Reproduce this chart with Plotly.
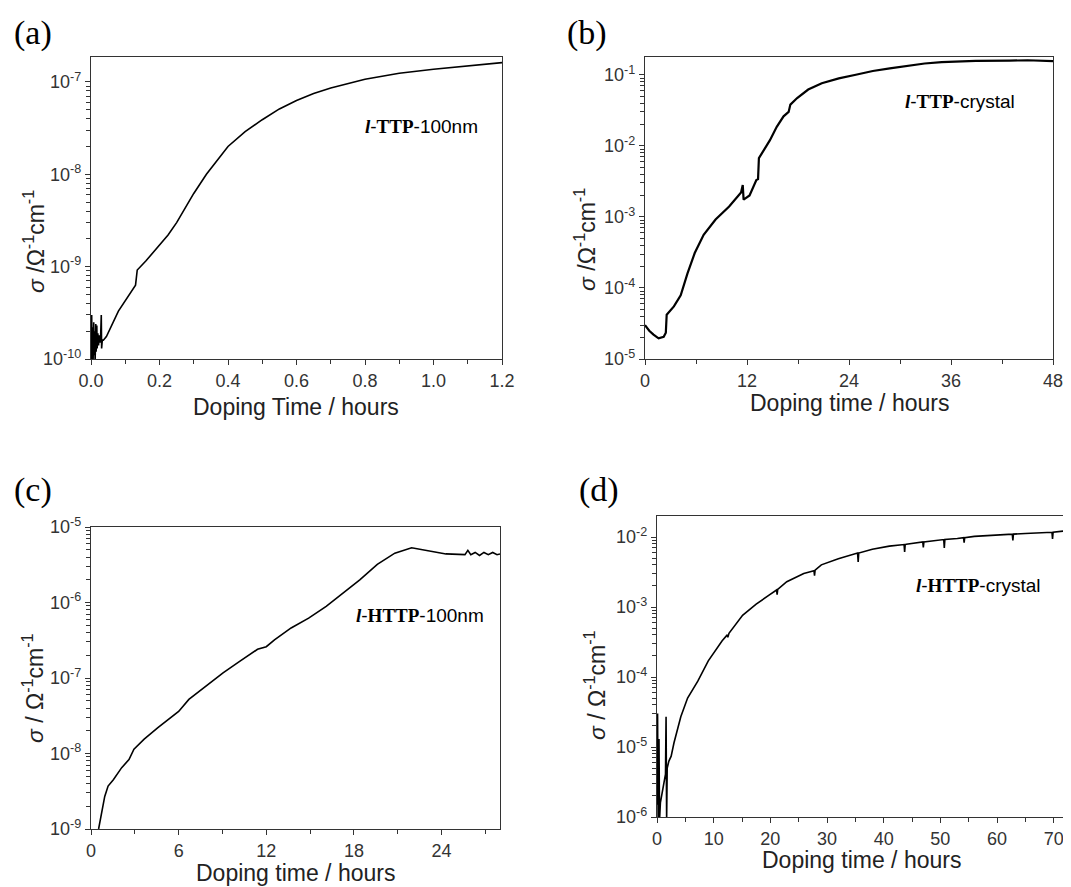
import plotly.graph_objects as go

# ---------------- data ----------------
# (a) l-TTP-100nm
a_time = [0.0, 0.002, 0.003, 0.005, 0.006, 0.008, 0.009, 0.011, 0.012, 0.014, 0.015, 0.017,
          0.018, 0.020, 0.022, 0.024, 0.026, 0.028, 0.030, 0.031, 0.033, 0.036, 0.045,
          0.08, 0.13, 0.135, 0.16, 0.2, 0.225, 0.25, 0.275, 0.3, 0.337, 0.37, 0.4, 0.45,
          0.5, 0.55, 0.6, 0.65, 0.7, 0.8, 0.9, 1.0, 1.1, 1.2]
a_sigma = [0.9e-10, 3.0e-10, 0.9e-10, 2.2e-10, 0.9e-10, 2.5e-10, 1.1e-10, 2.0e-10, 0.9e-10,
           2.4e-10, 1.2e-10, 2.3e-10, 1.3e-10, 1.9e-10, 1.4e-10, 1.8e-10, 1.5e-10, 1.7e-10,
           3.0e-10, 1.3e-10, 1.6e-10, 1.6e-10, 1.75e-10,
           3.3e-10, 6.3e-10, 9.2e-10, 1.15e-9, 1.7e-9, 2.2e-9, 3.0e-9, 4.3e-9, 6.2e-9,
           1.0e-8, 1.45e-8, 2.0e-8, 2.9e-8, 3.9e-8, 5.1e-8, 6.3e-8, 7.5e-8, 8.6e-8,
           1.07e-7, 1.24e-7, 1.37e-7, 1.48e-7, 1.62e-7]

# (b) l-TTP-crystal
b_time = [0.0, 0.5, 1.0, 1.6, 2.2, 2.45, 2.55, 3.4, 4.2, 5.0, 5.85, 6.9, 8.3, 9.9, 11.3,
          11.5, 11.6, 12.3, 13.1, 13.3, 13.4, 13.9, 14.7, 15.5, 16.3, 16.9, 17.1, 17.9,
          19.2, 20.8, 22.8, 24.8, 26.8, 28.8, 30.9, 32.9, 34.9, 36.9, 38.9, 42.9, 45.0, 48.0]
b_sigma = [3.0e-5, 2.5e-5, 2.2e-5, 1.95e-5, 2.05e-5, 2.35e-5, 4.2e-5, 5.5e-5, 7.9e-5,
           1.6e-4, 3.1e-4, 5.6e-4, 9.2e-4, 1.4e-3, 2.2e-3, 2.8e-3, 1.75e-3, 2.0e-3,
           3.3e-3, 3.4e-3, 6.7e-3, 8.3e-3, 1.2e-2, 1.85e-2, 2.6e-2, 3.0e-2, 3.8e-2,
           4.7e-2, 6.2e-2, 7.6e-2, 8.9e-2, 0.100, 0.113, 0.123, 0.134, 0.144, 0.151,
           0.155, 0.157, 0.158, 0.160, 0.156]

# (c) l-HTTP-100nm
c_time = [0.52, 0.94, 1.17, 1.53, 2.1, 2.6, 2.94, 3.64, 4.58, 5.52, 6.0, 6.7, 7.87, 9.04,
          10.2, 11.4, 12.0, 12.56, 13.7, 14.9, 16.1, 17.3, 18.4, 19.6, 20.8, 21.95,
          23.1, 24.3, 25.6, 25.8, 26.0, 26.3, 26.6, 26.9, 27.2, 27.5, 27.8, 28.0]
c_sigma = [1.0e-9, 2.7e-9, 3.7e-9, 4.5e-9, 6.5e-9, 8.3e-9, 1.14e-8, 1.55e-8, 2.2e-8,
           3.1e-8, 3.6e-8, 5.2e-8, 7.8e-8, 1.17e-7, 1.67e-7, 2.4e-7, 2.6e-7, 3.2e-7,
           4.6e-7, 6.2e-7, 8.9e-7, 1.34e-6, 2.0e-6, 3.2e-6, 4.5e-6, 5.3e-6, 4.8e-6,
           4.4e-6, 4.3e-6, 4.9e-6, 4.3e-6, 4.6e-6, 4.2e-6, 4.6e-6, 4.3e-6, 4.6e-6, 4.3e-6, 4.4e-6]

# (d) l-HTTP-crystal
d_time = [0.0, 0.1, 0.2, 0.3, 0.35, 0.45, 0.6, 0.9, 1.2, 1.5, 1.6, 1.7, 1.8, 2.1, 2.5,
          3.0, 4.2, 5.4, 7.2, 9.05, 11.5, 12.4, 12.5, 12.7, 15.1, 17.5, 19.9, 21.1, 21.2,
          21.3, 22.9, 25.9, 27.7, 27.8, 27.9, 29.0, 32.0, 35.0, 35.4, 35.5, 35.6, 38.0,
          41.0, 43.6, 43.7, 43.8, 44.0, 46.9, 47.0, 47.1, 50.0, 50.6, 50.7, 50.8, 53.0,
          54.1, 54.2, 54.3, 56.0, 59.0, 62.0, 62.7, 62.8, 62.9, 65.0, 68.0, 69.7, 69.8,
          69.9, 72.0]
d_sigma = [1.5e-6, 3.0e-5, 0.9e-6, 0.9e-6, 1.3e-5, 0.9e-6, 1.6e-6, 2.3e-6, 3.2e-6,
           4.1e-6, 2.7e-5, 0.9e-6, 5.0e-6, 6.3e-6, 7.4e-6, 1.15e-5, 2.7e-5, 5.0e-5,
           8.7e-5, 1.7e-4, 3.3e-4, 4.0e-4, 3.7e-4, 4.2e-4, 7.6e-4, 1.1e-3, 1.5e-3,
           1.75e-3, 1.5e-3, 1.78e-3, 2.3e-3, 3.0e-3, 3.3e-3, 2.8e-3, 3.35e-3, 4.0e-3,
           4.9e-3, 5.8e-3, 5.9e-3, 4.4e-3, 5.9e-3, 6.7e-3, 7.4e-3, 7.8e-3, 6.1e-3,
           7.8e-3, 7.9e-3, 8.5e-3, 7.1e-3, 8.5e-3, 9.1e-3, 9.2e-3, 7.0e-3, 9.2e-3, 9.5e-3,
           9.8e-3, 8.3e-3, 9.8e-3, 1.02e-2, 1.05e-2, 1.1e-2, 1.1e-2, 8.9e-3, 1.1e-2,
           1.12e-2, 1.15e-2, 1.17e-2, 9.4e-3, 1.17e-2, 1.22e-2]

panel_letters = ["(a)", "(b)", "(c)", "(d)"]
SANS = "font-family:'Liberation Sans', Arial, sans-serif"
sample_labels = [
    "<b><i>l</i></b><span style=\"%s\">-</span><b>TTP</b><span style=\"%s\">-100nm</span>" % (SANS, SANS),
    "<b><i>l</i></b><span style=\"%s\">-</span><b>TTP</b><span style=\"%s\">-crystal</span>" % (SANS, SANS),
    "<b><i>l</i></b><span style=\"%s\">-</span><b>HTTP</b><span style=\"%s\">-100nm</span>" % (SANS, SANS),
    "<b><i>l</i></b><span style=\"%s\">-</span><b>HTTP</b><span style=\"%s\">-crystal</span>" % (SANS, SANS),
]
x_titles = ["Doping Time / hours", "Doping time / hours",
            "Doping time / hours", "Doping time / hours"]
y_titles = ["<i>σ</i> /Ω<sup>-1</sup>cm<sup>-1</sup>", "<i>σ</i> /Ω<sup>-1</sup>cm<sup>-1</sup>",
            "<i>σ</i> / Ω<sup>-1</sup>cm<sup>-1</sup>", "<i>σ</i> / Ω<sup>-1</sup>cm<sup>-1</sup>"]
y_decades = [[-10, -9, -8, -7], [-5, -4, -3, -2, -1],
             [-9, -8, -7, -6, -5], [-6, -5, -4, -3, -2]]

# ---------------- layout geometry (screen pixels; page body has 8px margin) ----------------
OFF = 8
W, H = 1071 - OFF, 887 - OFF
boxes = [  # left, right, top, bottom in screen pixels
    (91, 502, 57, 359),
    (645, 1053, 57, 359),
    (91, 500, 527, 829),
    (657, 1065, 516, 817),
]
x_ranges = [[0, 1.2], [0, 48], [0, 28], [0, 72]]
x_dticks = [0.2, 12, 6, 10]
x_minor = [0.1, 6, 3, 5]
y_ranges = [[-10, -6.73], [-5, -0.75], [-9, -5], [-6, -1.7]]
label_pos = [(421, 126), (960, 102), (420, 615), (978, 585)]
letter_pos = [(33, 33), (587, 33), (33, 490), (599, 490)]
xtitle_pos = [(296, 407), (849, 403), (295, 873), (861, 860)]
ytitle_pos = [(34, 242), (585, 240), (33, 688), (595, 685)]

series = [(a_time, a_sigma), (b_time, b_sigma), (c_time, c_sigma), (d_time, d_sigma)]
widths = [1.6, 2.2, 1.6, 1.6]


def px(x):
    return (x - OFF) / W


def py(y):
    return 1 - (y - OFF) / H


fig = go.Figure()
axis_font = dict(family="Liberation Sans, Arial, sans-serif", size=18, color="#333333")
title_font = dict(family="Liberation Sans, Arial, sans-serif", size=23, color="#222222")
serif_font = "Liberation Serif, Times New Roman, serif"

for i, (xs, ys) in enumerate(series):
    n = "" if i == 0 else str(i + 1)
    fig.add_trace(go.Scatter(x=xs, y=ys, mode="lines", xaxis="x" + n, yaxis="y" + n,
                             line=dict(color="black", width=widths[i]), showlegend=False))
    l, r, t, b = boxes[i]
    fig.layout["xaxis" + n] = dict(
        domain=[px(l), px(r)], anchor="y" + n, range=x_ranges[i], automargin=False,
        dtick=x_dticks[i], tick0=0, ticks="outside", ticklen=5, tickwidth=1.2,
        tickcolor="#333", showline=True, linecolor="#333", linewidth=1.3, mirror=True,
        showgrid=False, zeroline=False, tickfont=axis_font,
        tickformat=".1f" if i == 0 else "d",
        minor=dict(dtick=x_minor[i], tick0=0, ticks="outside", ticklen=4, tickcolor="#333"),
    )
    fig.layout["yaxis" + n] = dict(
        domain=[py(b), py(t)], anchor="x" + n, type="log", range=y_ranges[i],
        automargin=False,
        tickmode="array", tickvals=[10 ** d for d in y_decades[i]],
        ticktext=["10<sup>%d</sup>" % d for d in y_decades[i]],
        ticks="outside", ticklen=5, tickwidth=1.2, tickcolor="#333",
        showline=True, linecolor="#333", linewidth=1.3, mirror=True,
        showgrid=False, zeroline=False, tickfont=axis_font,
        minor=dict(dtick="D1", ticks="outside", ticklen=4, tickcolor="#333"),
    )
    # axis titles
    fig.add_annotation(x=px(xtitle_pos[i][0]), y=py(xtitle_pos[i][1]), xref="paper",
                       yref="paper", xanchor="center", yanchor="middle",
                       text=x_titles[i], showarrow=False, font=title_font)
    fig.add_annotation(x=px(ytitle_pos[i][0]), y=py(ytitle_pos[i][1]), xref="paper",
                       yref="paper", xanchor="center", yanchor="middle", textangle=-90,
                       text=y_titles[i], showarrow=False, font=title_font)
    # sample label
    fig.add_annotation(x=px(label_pos[i][0]), y=py(label_pos[i][1]), xref="paper",
                       yref="paper", xanchor="center", yanchor="middle",
                       text=sample_labels[i], showarrow=False,
                       font=dict(family=serif_font, size=19, color="black"))
    # panel letter
    fig.add_annotation(x=px(letter_pos[i][0]), y=py(letter_pos[i][1]), xref="paper",
                       yref="paper", xanchor="center", yanchor="middle",
                       text=panel_letters[i], showarrow=False,
                       font=dict(family=serif_font, size=34, color="black"))

fig.update_layout(width=W, height=H, margin=dict(l=0, r=0, t=0, b=0),
                  paper_bgcolor="white", plot_bgcolor="white")
fig.write_html("out.html")
